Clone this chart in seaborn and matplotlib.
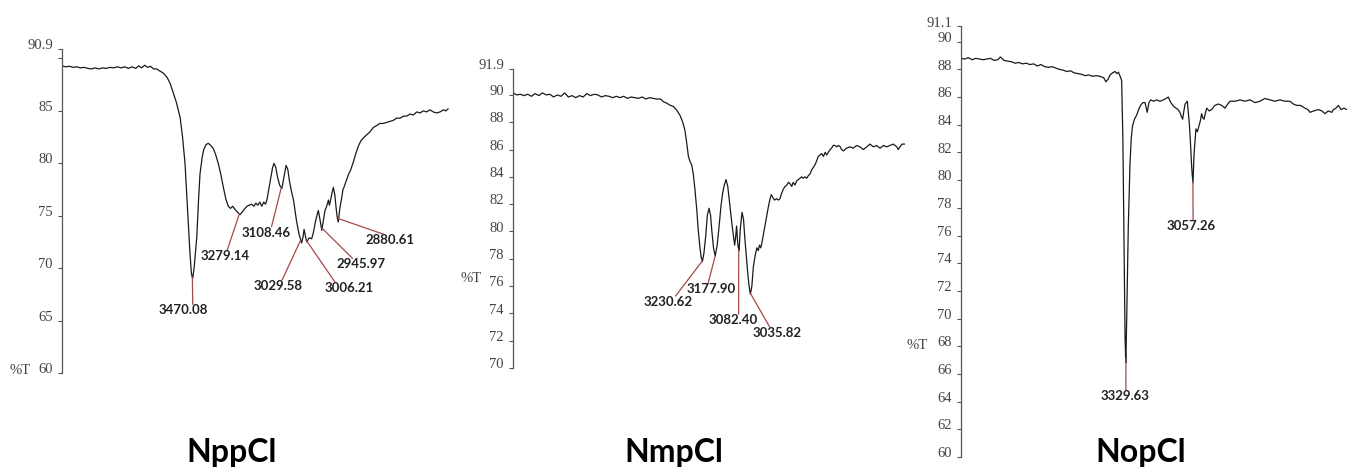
import numpy as np
import pandas as pd
import matplotlib
matplotlib.use("Agg")
import matplotlib.pyplot as plt
import matplotlib.transforms as mtransforms
import seaborn as sns

# === Spectrum data (wavenumber cm-1, %T) ===
npp_wn = [4000, 3985, 3970, 3955, 3940, 3925, 3910, 3895, 3880, 3865,
          3850, 3835, 3820, 3805, 3790, 3775, 3760, 3745, 3730, 3715,
          3700, 3688, 3676, 3664, 3652, 3640, 3628, 3615, 3602, 3588,
          3573, 3560, 3549, 3535, 3520, 3510, 3500, 3494, 3488, 3480,
          3474, 3469, 3463, 3452, 3445, 3439, 3430, 3424, 3414, 3405,
          3395, 3385, 3375, 3365, 3355, 3344, 3334, 3324, 3315, 3306,
          3300, 3293, 3285, 3276, 3266, 3256, 3248, 3240, 3229, 3220,
          3212, 3204, 3196, 3188, 3180, 3173, 3167, 3159, 3151, 3144,
          3138, 3131, 3124, 3115, 3106, 3097, 3089, 3082, 3076, 3068,
          3059, 3052, 3046, 3036, 3026, 3020, 3016, 3010, 3005, 2995,
          2985, 2978, 2971, 2964, 2958, 2951, 2944, 2938, 2931, 2924,
          2917, 2913, 2910, 2903, 2897, 2891, 2886, 2881, 2877, 2870,
          2863, 2858, 2854, 2845, 2836, 2826, 2816, 2806, 2796, 2786,
          2776, 2762, 2748, 2735, 2721, 2708, 2694, 2680, 2666, 2653,
          2640, 2626, 2612, 2599, 2585, 2572, 2558, 2545, 2531, 2518,
          2504, 2491, 2477, 2463, 2450, 2440, 2430]
npp_t = [89.3, 89.2, 89.25, 89.15, 89.2, 89.1, 89.15, 89.05, 89.0, 89.1,
         89.0, 89.1, 89.05, 89.15, 89.1, 89.2, 89.1, 89.2, 89.05, 89.2,
         89.05, 89.3, 89.1, 89.35, 89.15, 89.25, 89.0, 89.0, 88.8, 88.6,
         88.2, 87.6, 86.8, 85.8, 84.4, 82.5, 80.0, 77.5, 74.9, 71.5,
         69.5, 69.0, 70.0, 73.0, 76.5, 79.0, 80.6, 81.3, 81.8, 81.9,
         81.7, 81.4, 80.8, 80.0, 79.0, 77.7, 76.6, 75.9, 75.7, 75.9,
         75.7, 75.5, 75.3, 75.1, 75.4, 75.7, 75.9, 76.0, 76.1, 75.9,
         76.2, 76.0, 76.3, 75.9, 76.3, 76.1, 76.5, 77.6, 78.7, 79.6,
         80.0, 79.6, 78.7, 77.9, 77.6, 78.8, 79.8, 79.4, 78.4, 77.4,
         76.5, 75.4, 74.4, 73.2, 72.4, 73.0, 73.7, 73.0, 72.5, 72.9,
         72.8, 73.4, 74.3, 75.0, 75.5, 74.6, 73.6, 74.5, 75.5, 75.9,
         76.5, 76.0, 76.3, 77.1, 77.7, 77.0, 75.8, 74.8, 74.4, 75.8,
         76.7, 77.5, 77.7, 78.3, 78.9, 79.4, 80.1, 80.9, 81.6, 82.1,
         82.4, 82.7, 83.0, 83.4, 83.6, 83.8, 83.8, 83.9, 84.0, 84.1,
         84.3, 84.3, 84.5, 84.5, 84.7, 84.6, 84.9, 84.8, 85.0, 84.9,
         85.1, 84.9, 84.8, 84.9, 85.1, 85.0, 85.2]

nmp_wn = [4000, 3985, 3970, 3955, 3940, 3925, 3910, 3895, 3880, 3865,
          3850, 3835, 3820, 3805, 3790, 3775, 3760, 3745, 3730, 3715,
          3700, 3685, 3670, 3655, 3640, 3625, 3610, 3595, 3580, 3565,
          3550, 3535, 3520, 3505, 3490, 3475, 3460, 3445, 3430, 3416,
          3400, 3388, 3375, 3362, 3348, 3335, 3321, 3310, 3301, 3294,
          3287, 3280, 3274, 3267, 3260, 3253, 3247, 3240, 3235, 3230,
          3224, 3217, 3210, 3203, 3197, 3192, 3185, 3178, 3170, 3161,
          3155, 3148, 3141, 3134, 3127, 3121, 3114, 3107, 3102, 3099,
          3095, 3091, 3088, 3085, 3081, 3076, 3069, 3063, 3058, 3052,
          3047, 3041, 3035, 3029, 3023, 3016, 3009, 3003, 2998, 2993,
          2989, 2982, 2976, 2968, 2961, 2955, 2950, 2944, 2937, 2928,
          2921, 2915, 2908, 2901, 2894, 2887, 2880, 2874, 2867, 2861,
          2854, 2847, 2840, 2833, 2827, 2820, 2813, 2806, 2799, 2793,
          2786, 2779, 2772, 2765, 2759, 2752, 2745, 2738, 2731, 2725,
          2718, 2711, 2705, 2698, 2691, 2684, 2677, 2670, 2664, 2657,
          2644, 2630, 2617, 2603, 2590, 2576, 2562, 2549, 2535, 2522,
          2508, 2494, 2481, 2467, 2454, 2440, 2434, 2427, 2418, 2408]
nmp_t = [90.15, 90.0, 90.05, 89.95, 90.05, 89.9, 90.1, 89.95, 90.15, 90.0,
         90.05, 89.85, 90.0, 89.9, 90.15, 89.85, 89.95, 89.8, 89.95, 89.85,
         90.1, 89.95, 90.05, 90.0, 89.85, 89.95, 89.9, 89.8, 89.9, 89.8,
         89.9, 89.75, 89.85, 89.8, 89.75, 89.85, 89.7, 89.8, 89.75, 89.7,
         89.7, 89.5, 89.4, 89.25, 89.15, 88.9, 88.5, 88.0, 87.4, 86.5,
         85.5, 85.1, 84.9, 84.2, 83.0, 81.6, 80.1, 78.8, 78.1, 77.8,
         78.4, 79.6, 81.2, 81.7, 81.2, 80.1, 78.8, 78.2, 79.0, 80.6,
         81.8, 82.8, 83.4, 83.8, 83.3, 82.3, 81.2, 80.1, 79.4, 79.0,
         79.6, 80.4, 79.5, 78.9, 78.6, 80.2, 81.4, 80.9, 79.6, 78.3,
         77.2, 76.1, 75.4, 76.0, 77.4, 78.2, 78.8, 78.6, 79.0, 78.8,
         79.1, 79.8, 80.4, 81.2, 81.9, 82.4, 82.7, 82.5, 82.3, 82.4,
         82.3, 82.4, 82.8, 83.1, 83.3, 83.4, 83.6, 83.5, 83.3, 83.6,
         83.4, 83.7, 83.8, 83.9, 84.0, 83.9, 84.0, 83.9, 84.1, 84.2,
         84.5, 84.7, 84.9, 85.2, 85.5, 85.6, 85.7, 85.5, 85.8, 85.6,
         85.8, 86.0, 86.1, 86.3, 86.3, 86.2, 86.3, 86.2, 86.0, 85.9,
         86.1, 86.2, 86.1, 86.3, 86.2, 86.0, 86.2, 86.4, 86.2, 86.3,
         86.1, 86.3, 86.2, 86.3, 86.4, 86.2, 86.0, 86.2, 86.4, 86.4]

nop_wn = [4000, 3985, 3970, 3955, 3940, 3925, 3910, 3895, 3880, 3865,
          3850, 3840, 3825, 3810, 3795, 3780, 3765, 3750, 3735, 3720,
          3705, 3690, 3675, 3660, 3645, 3630, 3615, 3600, 3585, 3570,
          3555, 3540, 3525, 3510, 3495, 3480, 3465, 3450, 3435, 3420,
          3411, 3402, 3394, 3384, 3374, 3366, 3360, 3353, 3347, 3342,
          3339, 3336, 3333, 3330, 3326, 3320, 3313, 3308, 3303, 3295,
          3286, 3278, 3270, 3261, 3252, 3243, 3236, 3229, 3217, 3205,
          3191, 3177, 3167, 3157, 3150, 3143, 3134, 3126, 3118, 3110,
          3104, 3099, 3094, 3089, 3080, 3072, 3068, 3064, 3061, 3057,
          3053, 3045, 3039, 3033, 3027, 3022, 3017, 3012, 3006, 3001,
          2991, 2981, 2968, 2954, 2940, 2927, 2916, 2906, 2886, 2866,
          2846, 2825, 2805, 2785, 2765, 2744, 2724, 2703, 2683, 2663,
          2649, 2635, 2620, 2602, 2590, 2581, 2566, 2547, 2533, 2520,
          2507, 2493, 2486, 2476, 2466, 2455, 2443, 2432]
nop_t = [88.8, 88.75, 88.85, 88.7, 88.8, 88.75, 88.7, 88.75, 88.8, 88.65,
         88.7, 88.9, 88.65, 88.6, 88.55, 88.45, 88.5, 88.4, 88.45, 88.35,
         88.4, 88.25, 88.35, 88.2, 88.15, 88.2, 88.1, 88.0, 87.95, 87.85,
         87.9, 87.75, 87.7, 87.65, 87.55, 87.6, 87.5, 87.55, 87.5, 87.4,
         87.1, 87.3, 87.6, 87.75, 87.85, 87.7, 87.8, 87.5, 87.2, 83.0,
         78.0, 72.5, 68.5, 66.8, 70.4, 76.6, 81.2, 83.0, 83.9, 84.4,
         84.7, 85.1, 85.4, 85.6, 85.6, 84.9, 85.6, 85.8, 85.7, 85.8,
         85.7, 85.8, 85.9, 86.0, 85.7, 85.5, 85.3, 85.2, 85.1, 84.9,
         84.6, 84.4, 85.0, 85.5, 85.7, 84.1, 83.0, 81.5, 80.6, 79.8,
         81.8, 83.7, 83.5, 83.9, 84.3, 84.8, 84.5, 84.4, 84.9, 85.2,
         85.0, 85.1, 85.4, 85.5, 85.4, 85.2, 85.5, 85.7, 85.7, 85.8,
         85.7, 85.8, 85.6, 85.7, 85.9, 85.8, 85.7, 85.8, 85.7, 85.7,
         85.5, 85.4, 85.4, 85.2, 85.1, 84.9, 85.0, 85.1, 85.0, 84.8,
         85.0, 84.9, 85.1, 85.2, 85.4, 85.1, 85.2, 85.1]

# === Peak labels ===
npp_peaks = ["3470.08", "3279.14", "3108.46", "3029.58", "3006.21", "2945.97", "2880.61"]
nmp_peaks = ["3230.62", "3177.90", "3082.40", "3035.82"]
nop_peaks = ["3329.63", "3057.26"]

# === Y ticks ===
npp_ticks = [60, 65, 70, 75, 80, 85, 90, 90.9]
npp_ticklabels = ["60", "65", "70", "75", "80", "85", "", "90.9"]
nmp_ticks = [70, 72, 74, 76, 78, 80, 82, 84, 86, 88, 90, 91.9]
nmp_ticklabels = ["70", "72", "74", "76", "78", "80", "82", "84", "86", "88", "90", "91.9"]
nop_ticks = [60, 62, 64, 66, 68, 70, 72, 74, 76, 78, 80, 82, 84, 86, 88, 90, 91.1]
nop_ticklabels = ["60", "62", "64", "66", "68", "70", "72", "74", "76", "78", "80",
                  "82", "84", "86", "88", "90", "91.1"]

titles = ["NppCl", "NmpCl", "NopCl"]

# === Layout (pixels) ===
W, H = 1347, 469
PX_PER_CM = 1 / 4.065
XMAX, XMIN = 4000, 2400

sns.set_theme(style="white")
plt.rcParams["font.family"] = ["Lato", "DejaVu Sans"]

fig = plt.figure(figsize=(W / 100, H / 100), dpi=100)

panels = [
    dict(wn=npp_wn, t=npp_t, peaks=npp_peaks, ticks=npp_ticks, labels=npp_ticklabels,
         left=62, top=49, bottom=373, title_x=232, pt_pos=(20, 370),
         offsets=[(-9.5, -33), (-14, -42), (-14.7, -45), (-23, -46), (43, -47), (39.6, -37), (53, -22)],
         relpos=[(0.7, 1), (0.54, 1), (0.6, 1), (0.59, 1), (0.2, 1), (0.33, 1), (0.36, 1)]),
    dict(wn=nmp_wn, t=nmp_t, peaks=nmp_peaks, ticks=nmp_ticks, labels=nmp_ticklabels,
         left=513, top=69, bottom=368, title_x=674, pt_pos=(471, 278),
         offsets=[(-34, -41), (-3.6, -33), (-5.5, -71), (27.3, -40)],
         relpos=[(0.65, 1), (0.43, 1), (0.61, 1), (0.34, 1)]),
    dict(wn=nop_wn, t=nop_t, peaks=nop_peaks, ticks=nop_ticks, labels=nop_ticklabels,
         left=961, top=26.5, bottom=457, title_x=1141, pt_pos=(917, 345),
         offsets=[(-1, -38), (-1.8, -44)],
         relpos=[(0.52, 1), (0.54, 1)]),
]

width_px = (XMAX - XMIN) * PX_PER_CM
lift = mtransforms.ScaledTranslation(0, 3.5 / 72, fig.dpi_scale_trans)

for p in panels:
    ax = fig.add_axes([p["left"] / W, 1 - p["bottom"] / H, width_px / W, (p["bottom"] - p["top"]) / H])
    df = pd.DataFrame({"wn": p["wn"], "T": p["t"]})
    sns.lineplot(data=df, x="wn", y="T", ax=ax, color="#1a1a1a", linewidth=0.9,
                 estimator=None, sort=False)
    ax.set_xlim(XMAX, XMIN)
    ax.set_ylim(min(p["ticks"]), max(p["ticks"]))
    ax.set_xlabel("")
    ax.set_ylabel("")
    ax.set_xticks([])
    for s in ["top", "right", "bottom"]:
        ax.spines[s].set_visible(False)
    ax.spines["left"].set_color("#555555")
    ax.spines["left"].set_linewidth(0.9)
    ax.set_yticks(p["ticks"])
    ax.set_yticklabels(p["labels"], family=["Liberation Serif", "DejaVu Serif"],
                       fontsize=10.5, color="#444444")
    ax.tick_params(axis="y", direction="out", length=3, width=0.8, color="#555555",
                   pad=3.5, left=True)
    for lab in ax.get_yticklabels():
        lab.set_transform(lab.get_transform() + lift)
    ax.patch.set_alpha(0)

    # peak annotations
    wn_sorted = np.array(p["wn"])[::-1]
    t_sorted = np.array(p["t"])[::-1]
    for lbl, off, rp in zip(p["peaks"], p["offsets"], p["relpos"]):
        x = float(lbl)
        y = np.interp(x, wn_sorted, t_sorted)
        ax.annotate(lbl, xy=(x, y), xytext=off, textcoords="offset pixels",
                    ha="center", va="center", fontsize=9.5, fontweight="bold",
                    color="#222222", annotation_clip=False,
                    arrowprops=dict(arrowstyle="-", color="#a34a4a", lw=0.9,
                                    relpos=rp, shrinkA=0, shrinkB=0, patchA=None))

    fig.text(p["pt_pos"][0] / W, 1 - p["pt_pos"][1] / H, "%T",
             family=["Liberation Serif", "DejaVu Serif"], fontsize=10.5,
             color="#444444", ha="center", va="center")

for p, name in zip(panels, titles):
    fig.text(p["title_x"] / W, 7 / H, name, fontsize=23, fontweight="bold",
             color="black", ha="center", va="baseline")

fig.savefig("out.png", dpi=100)
